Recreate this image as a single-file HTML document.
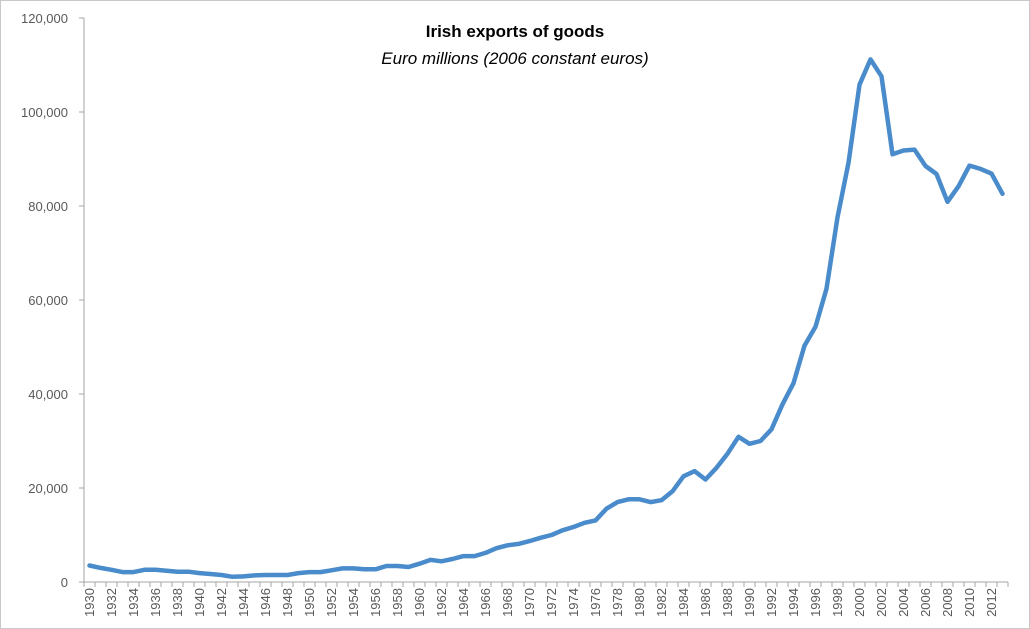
<!DOCTYPE html>
<html><head><meta charset="utf-8"><style>
html,body{margin:0;padding:0;background:#fff}
svg{display:block}
text{font-family:"Liberation Sans",sans-serif}
</style></head><body>
<svg id="c" width="1030" height="629">
<rect x="0.5" y="0.5" width="1029" height="628" fill="#fff" stroke="#c8c8c8"/>
<text x="515" y="37" text-anchor="middle" font-size="17" font-weight="bold" fill="#000">Irish exports of goods</text>
<text x="515" y="64" text-anchor="middle" font-size="17" font-style="italic" fill="#000">Euro millions (2006 constant euros)</text>
<g id="yax"></g><g id="xax"></g><g id="series"></g>
</svg>
<script>
const years=[];for(let y=1930;y<=2013;y++)years.push(y);
const values=[3.5,3.0,2.6,2.1,2.1,2.6,2.6,2.4,2.2,2.2,1.9,1.7,1.5,1.1,1.2,1.4,1.5,1.5,1.5,1.9,2.1,2.1,2.5,2.9,2.9,2.7,2.7,3.4,3.4,3.2,3.9,4.7,4.4,4.9,5.5,5.5,6.2,7.2,7.8,8.1,8.7,9.4,10.0,11.0,11.7,12.6,13.1,15.6,17.0,17.6,17.6,17.0,17.4,19.3,22.5,23.6,21.8,24.3,27.3,30.9,29.4,30.0,32.5,37.8,42.3,50.3,54.3,62.4,77.6,89.2,105.8,111.2,107.6,91.0,91.8,92.0,88.5,86.8,80.9,84.2,88.6,87.9,86.9,82.6];
const yTicks=[0,20,40,60,80,100,120];
const yTickLabels=["0","20,000","40,000","60,000","80,000","100,000","120,000"];
const NS="http://www.w3.org/2000/svg";
const x0=84,step=11,y0=582,yTop=18,yMax=120;
const xs=i=>x0+step*(i+0.5);
const ys=v=>y0-(v/yMax)*(y0-yTop);
function mk(t,a,p){const e=document.createElementNS(NS,t);for(const k in a)e.setAttribute(k,a[k]);p.appendChild(e);return e;}
const yax=document.getElementById('yax'),xax=document.getElementById('xax'),ser=document.getElementById('series');
let l=mk('line',{x1:x0,y1:yTop,x2:x0,y2:y0,stroke:'#a6a6a6'},yax);


yTicks.forEach((v,i)=>{
 const y=ys(v);
 const t=mk('line',{x1:x0-5,y1:y,x2:x0,y2:y,stroke:'#a6a6a6'},yax);
 
 
 const tx=mk('text',{x:x0-16,y:y+5,'text-anchor':'end','font-size':13,fill:'#595959'},yax);
 tx.textContent=yTickLabels[i];
 
 
});
l=mk('line',{x1:x0,y1:y0,x2:x0+step*years.length,y2:y0,stroke:'#a6a6a6'},xax);


for(let i=0;i<=years.length;i++){
 const t=mk('line',{x1:x0+step*i,y1:y0,x2:x0+step*i,y2:y0+5,stroke:'#a6a6a6'},xax);
 
 
}
years.forEach((yr,i)=>{
 if(i%2)return;
 const x=xs(i)+4.5;
 const tx=mk('text',{x:x,y:y0+6,'text-anchor':'end','font-size':13,fill:'#595959',transform:`rotate(-90 ${x} ${y0+6})`},xax);
 tx.textContent=yr;
 
 
});
const pts=values.map((v,i)=>xs(i).toFixed(1)+','+ys(v).toFixed(1)).join(' ');
const pl=mk('polyline',{points:pts,fill:'none',stroke:'#4a8ccb','stroke-width':4.5,'stroke-linejoin':'round','stroke-linecap':'round'},ser);


</script>
</body></html>
